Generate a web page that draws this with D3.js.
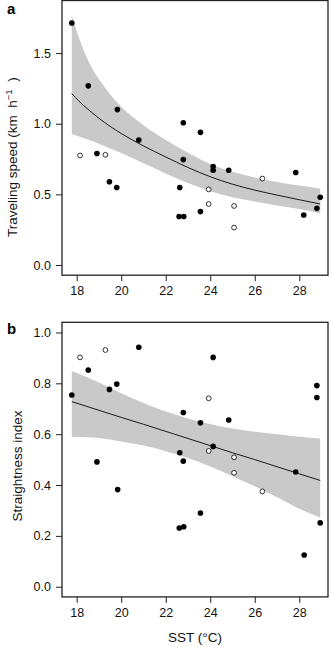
<!DOCTYPE html>
<html>
<head>
<meta charset="utf-8">
<script src="https://cdn.jsdelivr.net/npm/d3@7"></script>
<style>
  html, body { margin: 0; padding: 0; background: #fff; }
  svg { display: block; font-family: "Liberation Sans", Arial, sans-serif; }
</style>
</head>
<body>
<svg id="chart" width="331" height="647"></svg>
<script>
// ---------- Data ----------
const xTicks = [18, 20, 22, 24, 26, 28];
const aYTicks = [0.0, 0.5, 1.0, 1.5];
const bYTicks = [0.0, 0.2, 0.4, 0.6, 0.8, 1.0];

// Panel a: traveling speed (km h^-1)
const aFilledX = [17.78, 18.52, 18.91, 19.47, 19.80, 19.83, 20.79, 22.60, 22.63, 22.79, 22.79, 22.81, 23.56, 23.56, 24.13, 24.13, 24.83, 27.84, 28.20, 28.79, 28.94];
const aFilledY = [1.713, 1.268, 0.789, 0.589, 0.549, 1.100, 0.885, 0.343, 0.549, 1.007, 0.746, 0.343, 0.939, 0.378, 0.697, 0.671, 0.671, 0.655, 0.354, 0.401, 0.479];
const aOpenX = [18.15, 19.29, 23.93, 23.93, 25.07, 25.07, 26.34];
const aOpenY = [0.775, 0.780, 0.535, 0.432, 0.418, 0.265, 0.612];
const aFitX   = [17.78, 18.1, 18.5, 19.25, 20, 21, 22, 23, 24, 25, 26, 27, 28, 28.94];
const aFit    = [1.214, 1.16, 1.103, 1.009, 0.931, 0.843, 0.765, 0.690, 0.625, 0.572, 0.530, 0.495, 0.462, 0.432];
const aUpper  = [1.768, 1.610, 1.452, 1.260, 1.120, 0.990, 0.885, 0.795, 0.715, 0.660, 0.620, 0.588, 0.562, 0.540];
const aLower  = [0.927, 0.910, 0.888, 0.843, 0.792, 0.720, 0.648, 0.580, 0.522, 0.480, 0.450, 0.422, 0.396, 0.365];

// Panel b: straightness index
const bFilledX = [17.78, 18.52, 18.91, 19.47, 19.80, 19.84, 20.79, 22.61, 22.63, 22.79, 22.79, 22.81, 23.56, 23.56, 24.13, 24.13, 24.83, 27.84, 28.22, 28.79, 28.79, 28.94];
const bFilledY = [0.754, 0.852, 0.491, 0.776, 0.797, 0.382, 0.942, 0.231, 0.527, 0.685, 0.494, 0.236, 0.645, 0.290, 0.902, 0.552, 0.656, 0.451, 0.125, 0.791, 0.744, 0.251];
const bOpenX = [18.15, 19.29, 23.93, 23.93, 25.07, 25.07, 26.34];
const bOpenY = [0.902, 0.931, 0.741, 0.534, 0.509, 0.448, 0.375];
const bFitX  = [17.78, 19, 20, 21, 22, 23, 24, 25, 26, 27, 28, 28.94];
const bFit   = [0.728, 0.694, 0.666, 0.639, 0.611, 0.583, 0.555, 0.527, 0.500, 0.472, 0.444, 0.418];
const bUpper = [0.848, 0.803, 0.761, 0.723, 0.689, 0.662, 0.640, 0.622, 0.610, 0.600, 0.590, 0.583];
const bLower = [0.590, 0.585, 0.571, 0.555, 0.533, 0.506, 0.473, 0.435, 0.395, 0.352, 0.307, 0.272];

// ---------- Layout ----------
const svg = d3.select("#chart");
const FONT = "\"Liberation Sans\", Arial, sans-serif";
const left = 62, right = 328;
const xDomain = [17.34, 29.29];

function panel(cfg) {
  const x = d3.scaleLinear().domain(xDomain).range([left, right]);
  const y = d3.scaleLinear().domain(cfg.yDomain).range([cfg.bottom, cfg.top]);
  const g = svg.append("g");

  // confidence band
  const band = cfg.fitX.map((v, i) => ({x: v, lo: cfg.lower[i], hi: cfg.upper[i], f: cfg.fit[i]}));
  g.append("path")
    .datum(band)
    .attr("fill", "#c9c9c9")
    .attr("stroke", "none")
    .attr("d", d3.area().x(d => x(d.x)).y0(d => y(d.lo)).y1(d => y(d.hi)).curve(d3.curveMonotoneX));

  // fitted line
  g.append("path")
    .datum(band)
    .attr("fill", "none")
    .attr("stroke", "#1a1a1a")
    .attr("stroke-width", 1)
    .attr("d", d3.line().x(d => x(d.x)).y(d => y(d.f)).curve(d3.curveMonotoneX));

  // points
  const filled = cfg.fX.map((v, i) => ({x: v, y: cfg.fY[i]}));
  const open = cfg.oX.map((v, i) => ({x: v, y: cfg.oY[i]}));
  g.selectAll("circle.f").data(filled).enter().append("circle")
    .attr("class", "f").attr("cx", d => x(d.x)).attr("cy", d => y(d.y))
    .attr("r", 2.8).attr("fill", "#000");
  g.selectAll("circle.o").data(open).enter().append("circle")
    .attr("class", "o").attr("cx", d => x(d.x)).attr("cy", d => y(d.y))
    .attr("r", 2.4).attr("fill", "#fff").attr("stroke", "#000").attr("stroke-width", 0.8);

  // box
  g.append("rect")
    .attr("x", left).attr("y", cfg.top)
    .attr("width", right - left).attr("height", cfg.bottom - cfg.top)
    .attr("fill", "none").attr("stroke", "#222").attr("stroke-width", 1.3);

  // x axis
  const xa = g.append("g").attr("transform", `translate(0,${cfg.bottom})`)
    .call(d3.axisBottom(x).tickValues(xTicks).tickSize(6).tickPadding(5).tickFormat(d3.format("d")));
  xa.select(".domain").remove();
  xa.selectAll("line").attr("stroke", "#222").attr("stroke-width", 1);
  xa.selectAll("text").attr("font-family", FONT).attr("font-size", 12.5).attr("fill", "#111");

  // y axis
  const ya = g.append("g").attr("transform", `translate(${left},0)`)
    .call(d3.axisLeft(y).tickValues(cfg.yTicks).tickSize(6).tickPadding(5).tickFormat(d3.format(".1f")));
  ya.select(".domain").remove();
  ya.selectAll("line").attr("stroke", "#222").attr("stroke-width", 1);
  ya.selectAll("text").attr("font-family", FONT).attr("font-size", 12.5).attr("fill", "#111");

  // panel letter
  svg.append("text").attr("x", 7).attr("y", cfg.letterY)
    .attr("font-family", FONT).attr("font-weight", "bold").attr("font-size", 15)
    .attr("fill", "#000").text(cfg.letter);
}

panel({
  yDomain: [-0.072, 1.872], top: 0.5, bottom: 275.2, yTicks: aYTicks,
  fitX: aFitX, fit: aFit, upper: aUpper, lower: aLower,
  fX: aFilledX, fY: aFilledY, oX: aOpenX, oY: aOpenY,
  letter: "a", letterY: 13.5
});

panel({
  yDomain: [-0.04, 1.04], top: 322.3, bottom: 596.9, yTicks: bYTicks,
  fitX: bFitX, fit: bFit, upper: bUpper, lower: bLower,
  fX: bFilledX, fY: bFilledY, oX: bOpenX, oY: bOpenY,
  letter: "b", letterY: 333.5
});

// y-axis titles
const ta = svg.append("text")
  .attr("transform", "translate(17,237) rotate(-90)")
  .attr("font-family", FONT).attr("font-size", 13.5).attr("fill", "#111")
  .attr("text-anchor", "start");
ta.append("tspan").text("Traveling speed (km\u00A0\u00A0h");
ta.append("tspan").attr("font-size", 9.5).attr("dy", -5.5).text("\u22121");
ta.append("tspan").attr("dy", 5.5).text("\u00A0\u00A0)");

svg.append("text")
  .attr("transform", "translate(22,466) rotate(-90)")
  .attr("font-family", FONT).attr("font-size", 13.5).attr("fill", "#111")
  .attr("text-anchor", "middle")
  .text("Straightness index");

// x-axis title
svg.append("text")
  .attr("x", 195).attr("y", 642)
  .attr("font-family", FONT).attr("font-size", 13.5).attr("fill", "#111")
  .attr("text-anchor", "middle")
  .text("SST (\u00B0C)");
</script>
</body>
</html>
